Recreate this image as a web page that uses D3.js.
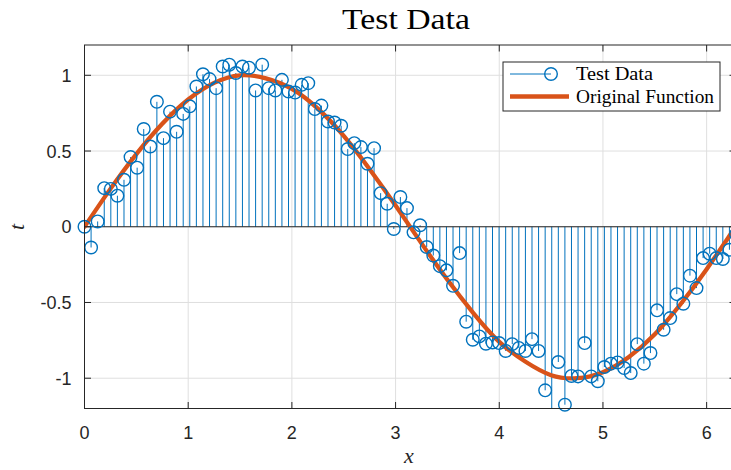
<!DOCTYPE html>
<html>
<head>
<meta charset="utf-8">
<script src="https://cdn.jsdelivr.net/npm/d3@7"></script>
<style>
  body { margin: 0; background: #fff; }
  svg { display: block; overflow: hidden; }
</style>
</head>
<body>
<svg id="chart" width="731" height="470"></svg>
<script>
// test data, 100 samples (x runs 0 .. 2pi)
let testData = [
  0, -0.137, 0.035, 0.255, 0.25, 0.205, 0.31, 0.46, 0.39, 0.645,
  0.53, 0.825, 0.585, 0.76, 0.627, 0.745, 0.795, 0.926, 1.007, 0.975,
  0.915, 1.058, 1.07, 1.015, 1.058, 1.05, 0.9, 1.07, 0.915, 0.9,
  0.97, 0.893, 0.886, 0.937, 0.948, 0.777, 0.8, 0.695, 0.688, 0.667,
  0.513, 0.552, 0.526, 0.416, 0.519, 0.222, 0.152, -0.015, 0.196, 0.123,
  -0.037, 0.01, -0.134, -0.19, -0.26, -0.288, -0.39, -0.174, -0.627, -0.746,
  -0.724, -0.772, -0.764, -0.768, -0.82, -0.775, -0.8, -0.82, -0.742, -0.82,
  -1.08, -1.28, -0.893, -1.175, -0.985, -0.988, -0.768, -0.988, -1.02, -0.926,
  -0.904, -0.896, -0.933, -0.966, -0.775, -0.904, -0.834, -0.552, -0.68, -0.603,
  -0.445, -0.508, -0.323, -0.405, -0.207, -0.178, -0.207, -0.213, -0.152, -0.05
];
// original function, read at a few points along the orange curve
let curveX = [0, 0.25, 0.5, 0.75, 1, 1.25, 1.5, 1.75, 2, 2.25, 2.5, 2.75, 3, 3.25,
  3.5, 3.75, 4, 4.25, 4.5, 4.75, 5, 5.25, 5.5, 5.75, 6, 6.25, 6.283];
let curveY = [0, 0.25, 0.48, 0.68, 0.84, 0.95, 1.0, 0.98, 0.91, 0.78, 0.6, 0.38, 0.14, -0.11,
  -0.35, -0.57, -0.76, -0.89, -0.98, -1.0, -0.96, -0.86, -0.71, -0.51, -0.28, -0.03, 0];
let xTicks = [0, 1, 2, 3, 4, 5, 6];
let yTicks = [-1, -0.5, 0, 0.5, 1];
let legendLabels = ["Test Data", "Original Function"];

let blue = "#0072BD";
let orange = "#D95319";
let axisColor = "#262626";

let svg = d3.select("#chart");
// plot box (right side runs past the picture edge, like the original)
let pLeft = 84.5, pRight = 736, pTop = 45, pBottom = 408.5;

let x = d3.scaleLinear().domain([0, 2 * Math.PI]).range([pLeft, pRight]);
let y = d3.scaleLinear().domain([-1.2, 1.2]).range([pBottom, pTop]);

// sample positions: evenly spaced over the x range
let xs = d3.range(testData.length).map(i => i * 2 * Math.PI / (testData.length - 1));
let pts = testData.map((v, i) => ({x: xs[i], y: v}));

svg.append("defs").append("clipPath").attr("id", "plotClip")
  .append("rect")
  .attr("x", pLeft).attr("y", pTop)
  .attr("width", pRight - pLeft).attr("height", pBottom - pTop);

// grid
let grid = svg.append("g").attr("class", "grid");
grid.selectAll(".gx").data(xTicks).enter().append("line")
  .attr("x1", d => x(d)).attr("x2", d => x(d))
  .attr("y1", pTop).attr("y2", pBottom)
  .attr("stroke", "#dfdfdf").attr("stroke-width", 1);
grid.selectAll(".gy").data(yTicks).enter().append("line")
  .attr("x1", pLeft).attr("x2", pRight)
  .attr("y1", d => y(d)).attr("y2", d => y(d))
  .attr("stroke", "#dfdfdf").attr("stroke-width", 1);

let plot = svg.append("g").attr("clip-path", "url(#plotClip)");

// stems
plot.selectAll(".stem").data(pts).enter().append("line")
  .attr("class", "stem")
  .attr("x1", d => x(d.x)).attr("x2", d => x(d.x))
  .attr("y1", y(0)).attr("y2", d => y(d.y))
  .attr("stroke", blue).attr("stroke-width", 1);

// baseline
plot.append("line")
  .attr("x1", pLeft).attr("x2", pRight)
  .attr("y1", y(0)).attr("y2", y(0))
  .attr("stroke", axisColor).attr("stroke-width", 1);

// markers, only where the value is inside the y limits
svg.selectAll(".mark").data(pts.filter(d => d.y >= -1.2 && d.y <= 1.2)).enter()
  .append("circle")
  .attr("class", "mark")
  .attr("cx", d => x(d.x)).attr("cy", d => y(d.y))
  .attr("r", 6.3)
  .attr("fill", "none")
  .attr("stroke", blue).attr("stroke-width", 1.4);

// original function
let line = d3.line()
  .x((d, i) => x(curveX[i]))
  .y(d => y(d))
  .curve(d3.curveNatural);
plot.append("path")
  .attr("d", line(curveY))
  .attr("fill", "none")
  .attr("stroke", orange).attr("stroke-width", 4.3)
  .attr("stroke-linecap", "round");

// axes box with inward ticks
let tk = 6.5;
let ax = svg.append("g").attr("stroke", axisColor).attr("stroke-width", 1).attr("fill", "none");
ax.append("rect").attr("x", pLeft).attr("y", pTop)
  .attr("width", pRight - pLeft).attr("height", pBottom - pTop);
xTicks.forEach(function (t) {
  ax.append("line").attr("x1", x(t)).attr("x2", x(t)).attr("y1", pBottom).attr("y2", pBottom - tk);
  ax.append("line").attr("x1", x(t)).attr("x2", x(t)).attr("y1", pTop).attr("y2", pTop + tk);
});
yTicks.forEach(function (t) {
  ax.append("line").attr("x1", pLeft).attr("x2", pLeft + tk).attr("y1", y(t)).attr("y2", y(t));
  ax.append("line").attr("x1", pRight).attr("x2", pRight - tk).attr("y1", y(t)).attr("y2", y(t));
});

// tick labels
let tickFont = "'Liberation Sans', Arial, sans-serif";
svg.selectAll(".xl").data(xTicks).enter().append("text")
  .attr("x", d => x(d)).attr("y", pBottom + 30)
  .attr("text-anchor", "middle")
  .attr("font-family", tickFont).attr("font-size", 18)
  .attr("fill", axisColor)
  .text(d => d);
svg.selectAll(".yl").data(yTicks).enter().append("text")
  .attr("x", pLeft - 13).attr("y", d => y(d) + 6.5)
  .attr("text-anchor", "end")
  .attr("font-family", tickFont).attr("font-size", 18)
  .attr("fill", axisColor)
  .text(d => d);

// title and axis labels
let serif = "'Liberation Serif', 'Times New Roman', serif";
svg.append("text")
  .attr("x", 406).attr("y", 29)
  .attr("text-anchor", "middle")
  .attr("font-family", serif).attr("font-size", 29)
  .attr("fill", "#000")
  .attr("textLength", 128).attr("lengthAdjust", "spacingAndGlyphs")
  .text("Test Data");
svg.append("text")
  .attr("x", 409).attr("y", 463)
  .attr("text-anchor", "middle")
  .attr("font-family", serif).attr("font-style", "italic").attr("font-size", 22)
  .attr("fill", axisColor)
  .text("x");
svg.append("text")
  .attr("transform", "translate(24,227) rotate(-90)")
  .attr("text-anchor", "middle")
  .attr("font-family", serif).attr("font-style", "italic").attr("font-size", 22)
  .attr("fill", axisColor)
  .text("t");

// legend
let lg = svg.append("g");
lg.append("rect")
  .attr("x", 503).attr("y", 62).attr("width", 217).attr("height", 49)
  .attr("fill", "#fff").attr("stroke", axisColor).attr("stroke-width", 1);
lg.append("line")
  .attr("x1", 510).attr("x2", 551).attr("y1", 74).attr("y2", 74)
  .attr("stroke", blue).attr("stroke-width", 1);
lg.append("circle")
  .attr("cx", 551).attr("cy", 74).attr("r", 6.3)
  .attr("fill", "none").attr("stroke", blue).attr("stroke-width", 1.4);
lg.append("line")
  .attr("x1", 510).attr("x2", 569).attr("y1", 96.5).attr("y2", 96.5)
  .attr("stroke", orange).attr("stroke-width", 4.3);
lg.selectAll(".lt").data(legendLabels).enter().append("text")
  .attr("x", 576).attr("y", (d, i) => 80 + i * 22.5)
  .attr("font-family", serif).attr("font-size", 18.5)
  .attr("fill", "#000")
  .attr("textLength", (d, i) => i === 0 ? 77 : 138)
  .attr("lengthAdjust", "spacingAndGlyphs")
  .text(d => d);
</script>
</body>
</html>
